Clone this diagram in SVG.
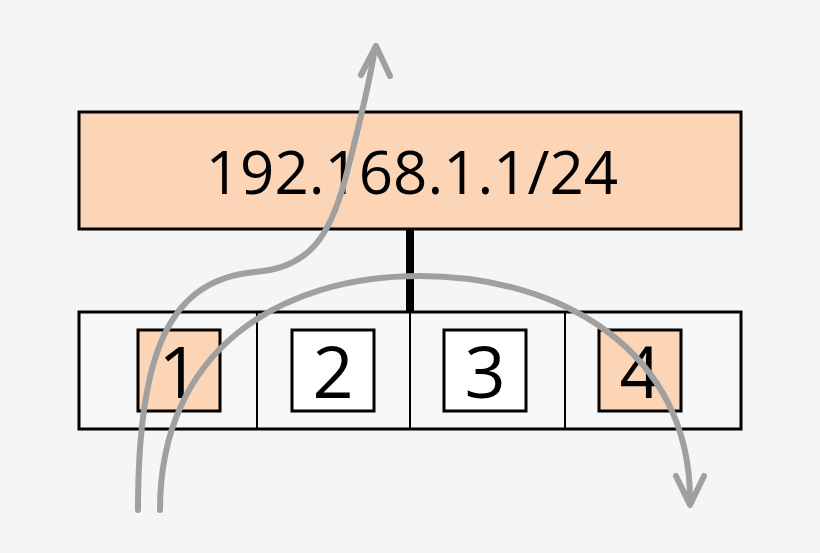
<svg xmlns="http://www.w3.org/2000/svg" width="820" height="553" viewBox="0 0 820 553">
<style>
.b{stroke:#000;stroke-width:3}
.t{font-family:"Open Sans","Liberation Sans",sans-serif;fill:#000;text-anchor:middle}
.a{fill:none;stroke:#a0a0a0;stroke-width:6;stroke-linecap:round;stroke-linejoin:round}
</style>
<rect width="820" height="553" fill="#f5f5f5"/>
<g id="router">
<rect x="79" y="112" width="662" height="117" fill="#fbd5b5" class="b"/>
<text x="412" y="194" font-size="60" class="t">192.168.1.1/24</text>
</g>
<g id="link"><line x1="410" y1="229" x2="410" y2="312" stroke="#000" stroke-width="8"/></g>
<g id="switch">
<rect x="79" y="312" width="662" height="117" fill="#f7f7f7" class="b"/>
<line x1="257" y1="312" x2="257" y2="429" stroke="#000" stroke-width="2"/>
<line x1="410" y1="312" x2="410" y2="429" stroke="#000" stroke-width="2"/>
<line x1="565" y1="312" x2="565" y2="429" stroke="#000" stroke-width="2"/>
</g>
<g id="port1"><rect x="138" y="330" width="82" height="81" fill="#fbd5b5" class="b"/><text x="179" y="398" font-size="72" class="t">1</text></g>
<g id="port2"><rect x="292" y="330" width="82" height="81" fill="#fff" class="b"/><text x="333" y="398" font-size="72" class="t">2</text></g>
<g id="port3"><rect x="444" y="330" width="82" height="81" fill="#fff" class="b"/><text x="485" y="398" font-size="72" class="t">3</text></g>
<g id="port4"><rect x="599" y="330" width="82" height="81" fill="#fbd5b5" class="b"/><text x="640" y="398" font-size="72" class="t">4</text></g>
<g id="connectors">
<path class="a" d="M138,510 C138,350 170,280 255,272 C310,268 330,235 345,180 C358,130 370,80 375,48"/>
<path class="a" d="M361,75 L376,46 L390,76"/>
<path class="a" d="M160,510 C160,350 280,276 420,276 C560,276 690,350 690,500"/>
<path class="a" d="M676,476 L690,505 L704,476"/>
</g>
</svg>
